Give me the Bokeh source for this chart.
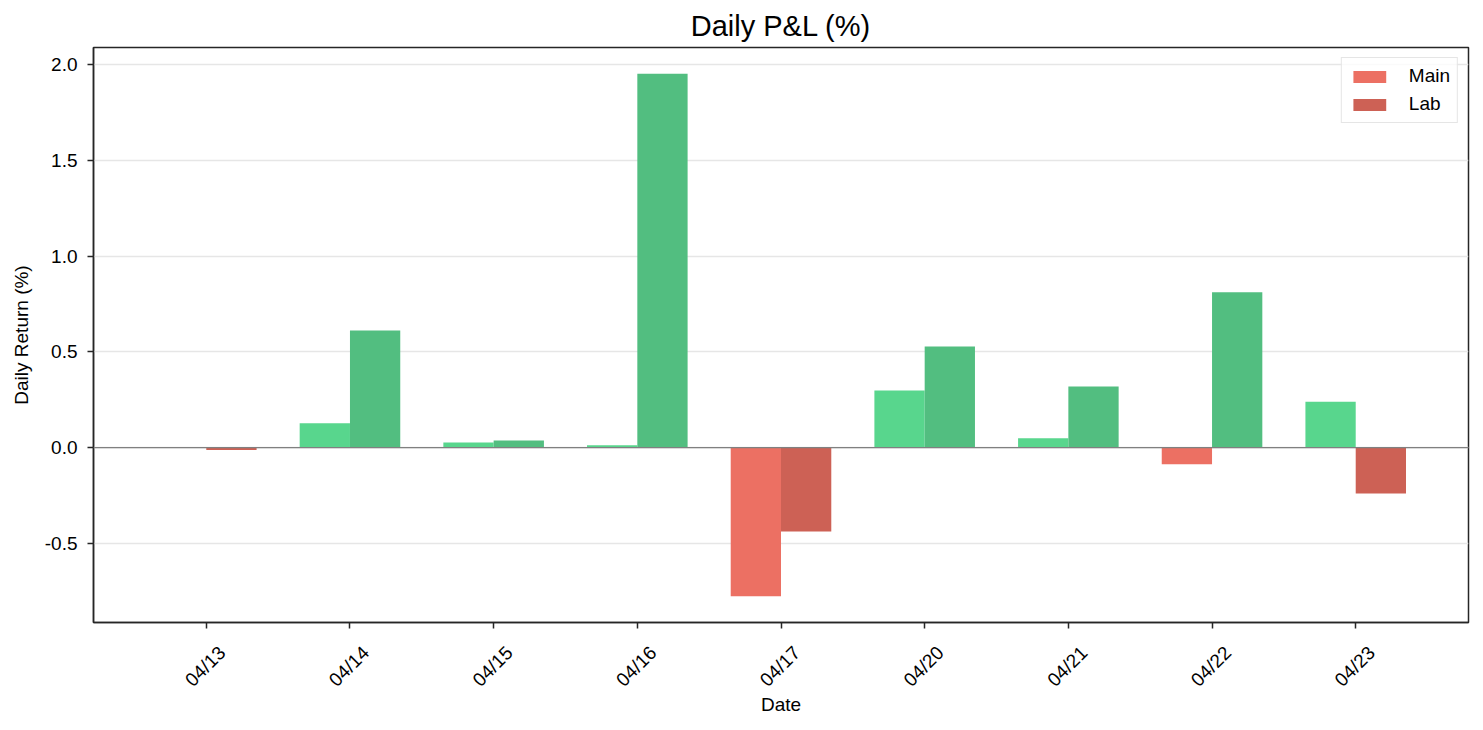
import math
import numpy as np
from bokeh.plotting import figure
from bokeh.models import (Range1d, FixedTicker, Span, Legend, LegendItem,
                          ColumnDataSource, PrintfTickFormatter, LinearAxis)
from bokeh.embed import file_html
from bokeh.resources import INLINE

# ---- data ----
dates = ["04/13", "04/14", "04/15", "04/16", "04/17", "04/20", "04/21", "04/22", "04/23"]
main_ret = [0.0, 0.127, 0.027, 0.012, -0.777, 0.298, 0.049, -0.087, 0.240]
lab_ret = [-0.013, 0.612, 0.037, 1.953, -0.438, 0.528, 0.319, 0.811, -0.240]
y_ticks = [-0.5, 0.0, 0.5, 1.0, 1.5, 2.0]

# ---- style ----
FONT = "Liberation Sans"
MAIN_POS, MAIN_NEG = "#58D68D", "#EC7063"
LAB_POS, LAB_NEG = "#52BE80", "#CD6155"
AX = "#262626"
BAR_W = 0.35
LABEL_SHIFT = 0.11   # rotated labels are centred under their tick

n = len(dates)
idx = np.arange(n)
main_colors = [MAIN_POS if v > 0 else MAIN_NEG for v in main_ret]
lab_colors = [LAB_POS if v > 0 else LAB_NEG for v in lab_ret]

src_main = ColumnDataSource(dict(x=idx - BAR_W / 2, top=main_ret, color=main_colors))
src_lab = ColumnDataSource(dict(x=idx + BAR_W / 2, top=lab_ret, color=lab_colors))

lo = min(min(main_ret), min(lab_ret), 0.0)
hi = max(max(main_ret), max(lab_ret), 0.0)
ypad = 0.05 * (hi - lo)
xlo, xhi = -BAR_W, (n - 1) + BAR_W
xpad = 0.05 * (xhi - xlo)
x0, x1 = xlo - xpad, xhi + xpad

p = figure(width=1475, height=728, output_backend="svg", toolbar_location=None,
           x_range=Range1d(x0, x1),
           y_range=Range1d(lo - ypad, hi + ypad),
           title="Daily P&L (%)")
p.extra_x_ranges = {"labels": Range1d(x0 - LABEL_SHIFT, x1 - LABEL_SHIFT)}
p.min_border_left = 93
p.min_border_right = 7
p.min_border_top = 47
p.min_border_bottom = 106
p.background_fill_color = "white"
p.border_fill_color = "white"
p.outline_line_color = AX
p.outline_line_width = 1.5

p.title.align = "center"
p.title.text_font = FONT
p.title.text_font_size = "29px"
p.title.text_font_style = "normal"
p.title.text_color = "black"
p.title.standoff = 12

r_main = p.vbar(x="x", top="top", bottom=0, width=BAR_W, source=src_main,
                fill_color="color", line_color=None)
r_lab = p.vbar(x="x", top="top", bottom=0, width=BAR_W, source=src_lab,
               fill_color="color", line_color=None)

p.add_layout(Span(location=0, dimension="width", line_color="#808080", line_width=1.3))


def style_axis(ax):
    ax.axis_line_color = AX
    ax.axis_line_width = 1.5
    ax.major_tick_line_color = AX
    ax.major_tick_line_width = 1.5
    ax.major_tick_out = 6
    ax.major_tick_in = 0
    ax.minor_tick_line_color = None
    ax.major_label_text_font = FONT
    ax.major_label_text_font_size = "19px"
    ax.major_label_text_color = "black"
    ax.axis_label_text_font = FONT
    ax.axis_label_text_font_size = "19px"
    ax.axis_label_text_font_style = "normal"
    ax.axis_label_text_color = "black"


# x axis: ticks on the main range
xa = p.xaxis[0]
style_axis(xa)
xa.ticker = FixedTicker(ticks=list(idx))
xa.major_label_overrides = {int(i): "" for i in idx}
xa.major_label_text_font_size = "1px"
xa.major_label_standoff = 0

# x tick labels on a shifted copy of the range (centres the rotated text)
xl = LinearAxis(x_range_name="labels")
style_axis(xl)
xl.axis_line_color = None
xl.major_tick_line_color = None
xl.major_tick_out = 0
xl.ticker = FixedTicker(ticks=list(idx))
xl.major_label_overrides = {int(i): d for i, d in zip(idx, dates)}
xl.major_label_orientation = math.pi / 4
xl.major_label_standoff = 21
xl.axis_label = "Date"
xl.axis_label_standoff = -7
p.add_layout(xl, "below")

ya = p.yaxis[0]
style_axis(ya)
ya.ticker = FixedTicker(ticks=y_ticks)
ya.formatter = PrintfTickFormatter(format="%.1f")
ya.major_label_standoff = 10
ya.axis_label = "Daily Return (%)"
ya.axis_label_standoff = 10

p.xgrid.visible = False
p.ygrid.grid_line_color = "#e6e6e6"
p.ygrid.grid_line_width = 1.5

legend = Legend(items=[LegendItem(label="Main", renderers=[r_main], index=0),
                       LegendItem(label="Lab", renderers=[r_lab], index=0)],
                location="top_right")
legend.label_text_font = FONT
legend.label_text_font_size = "19px"
legend.label_text_color = "black"
legend.glyph_width = 41
legend.glyph_height = 15
legend.label_standoff = 19
legend.padding = 7
legend.spacing = 6
legend.margin = 10
legend.border_line_color = "#cccccc"
legend.border_line_width = 1.5
legend.background_fill_alpha = 0.8
p.add_layout(legend)

open("out.html", "w").write(file_html(p, INLINE))
